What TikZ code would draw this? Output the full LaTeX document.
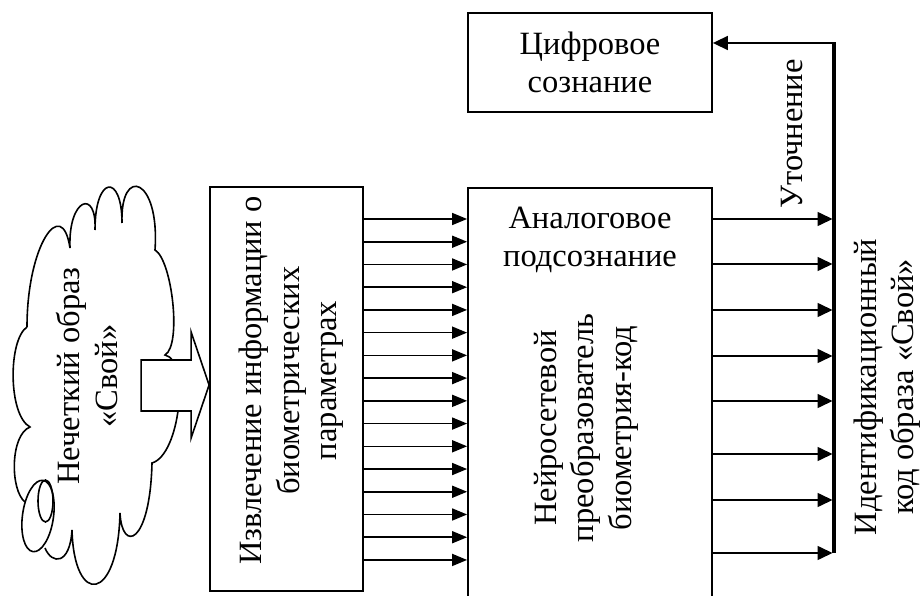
\documentclass[tikz,border=0pt]{standalone}
\usepackage{fontspec}
\setmainfont{Liberation Serif}
\usetikzlibrary{arrows.meta, math}

\tikzset{
lbl/.style={font=\fontsize{32.5}{37.5}\selectfont, align=center, inner sep=0pt},
blk/.style={draw, line width=1.8pt, inner sep=0pt},
sarr/.style={line width=1.6pt, -{Triangle[length=15pt,width=12pt]}},
barr/.style={line width=1.6pt, -{Triangle[length=15pt,width=14pt]}}
}

\begin{document}
\begin{tikzpicture}[x=1pt,y=1pt]

\tikzmath{
\dy = 22.73;
\ytop = 376;
\xbus = 834;
}

\useasboundingbox (0,0) rectangle (921,595);

%blocks:
\node[blk, minimum width=153pt, minimum height=404pt] (extract) at (286.5,206) {};
\node[blk, minimum width=244pt, minimum height=415pt] (analog) at (590,199.5) {};
\node[blk, minimum width=244pt, minimum height=99pt] (digital) at (590,532.5) {};

%texts:
\node[lbl, rotate=90] (extracttxt) at (291.5,214.5) {Извлечение информации о\\биометрических\\параметрах};
\node[lbl] (analogtxt) at (590,355) {Аналоговое\\подсознание};
\node[lbl, rotate=90] (nettxt) at (586,167) {Нейросетевой\\преобразователь\\биометрия-код};
\node[lbl] (digitaltxt) at (digital.center) {Цифровое\\сознание};
\node[lbl, rotate=90] (refine) at (792,461) {Уточнение};
\node[lbl, rotate=90] (code) at (887,208) {Идентификационный\\код образа «Свой»};

%cloud:
\draw[line width=1.6pt] (27,268)
  .. controls (27,350) and (62,400) .. (70,347)
  .. controls (68,397) and (97,407) .. (95,365)
  .. controls (95,420) and (122,422) .. (122,372)
  .. controls (120,430) and (160,418) .. (155,345)
  .. controls (172,335) and (182,250) .. (165,240)
  .. controls (190,235) and (180,140) .. (152,132)
  .. controls (150,50) and (122,42) .. (120,82)
  .. controls (118,-8) and (74,-12) .. (72,65)
  .. controls (70,30) and (52,30) .. (45,47);
\draw[line width=1.6pt] (25,93)
  .. controls (10,105) and (10,160) .. (30,168)
  .. controls (8,180) and (8,255) .. (27,268);
\draw[line width=1.6pt, rotate around={-8:(38,79)}] (38,79) ellipse (15.5pt and 36pt);
\draw[line width=1.6pt] (45.5,94) ellipse (7.5pt and 21pt);
\node[lbl, rotate=90] (fuzzy) at (87,219) {Нечеткий образ\\«Свой»};

%input arrow:
\coordinate (tip) at (extract.west |- 0,210);
\draw[line width=1.6pt, fill=white] (tip) -- ++(-18,53) -- ++(0,-28) -- ++(-50,0)
  -- ++(0,-51) -- ++(50,0) -- ++(0,-27) -- cycle;

%parameters:
\foreach \i in {0,...,15}
  \draw[sarr] (extract.east |- 0,\ytop-\i*\dy) -- (analog.west |- 0,\ytop-\i*\dy);

%code bus:
\coordinate (bustop) at (\xbus,552);
\coordinate (busbot) at (\xbus,42);
\draw[line width=3.3pt] (busbot) -- (bustop);
\foreach \y in {376,331,285,239,194,141,95,42}
  \draw[barr] (analog.east |- 0,\y) -- ([xshift=-1.5pt]bustop |- 0,\y);
\draw[barr] ([xshift=1.5pt]bustop) -- (digital.east |- bustop);

\end{tikzpicture}
\end{document}
